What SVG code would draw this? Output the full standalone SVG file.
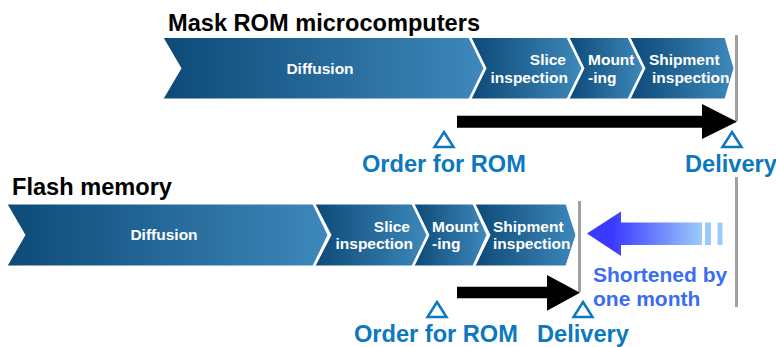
<svg xmlns="http://www.w3.org/2000/svg" width="776" height="347" viewBox="0 0 776 347">
<defs>
<linearGradient id="chev" x1="0" y1="0" x2="1" y2="0">
<stop offset="0" stop-color="#0d4a78"/>
<stop offset="1" stop-color="#3e88bb"/>
</linearGradient>
<linearGradient id="blueArrow" gradientUnits="userSpaceOnUse" x1="612" y1="0" x2="702" y2="0">
<stop offset="0" stop-color="#3a3aff"/>
<stop offset="1" stop-color="#9ccbfb"/>
</linearGradient>
<style>
.chev{fill:url(#chev);stroke:#fff;stroke-width:1}
.ct{font-family:"Liberation Sans",Arial,sans-serif;font-weight:bold;font-size:15.5px;fill:#fff}
.title{font-family:"Liberation Sans",Arial,sans-serif;font-weight:bold;font-size:23.6px;fill:#000}
.lbl{font-family:"Liberation Sans",Arial,sans-serif;font-weight:bold;font-size:23.6px;fill:#0b78c0}
.short{font-family:"Liberation Sans",Arial,sans-serif;font-weight:bold;font-size:21px;fill:#3a6cf4}
.tri{fill:#fff;stroke:#0b78c0;stroke-width:2.5;stroke-linejoin:miter}
.grey{stroke:#a0a0a0;stroke-width:3;fill:none}
.blk{fill:#000}
</style>
</defs>
<rect width="776" height="347" fill="#fff"/>

<g id="title-mask"><text class="title" x="168" y="31">Mask ROM microcomputers</text></g>
<g id="title-flash"><text class="title" x="12" y="195">Flash memory</text></g>

<!-- top row -->
<g id="top-diffusion">
<polygon class="chev" points="163,37.5 469,37.5 484,68.3 469,99 163,99 181,68.3"/>
<text class="ct" x="320" y="74" text-anchor="middle">Diffusion</text>
</g>
<g id="top-slice">
<polygon class="chev" points="471,37.5 567,37.5 582,68.3 567,99 471,99 486,68.3"/>
<text class="ct" x="566" y="65" text-anchor="end">Slice</text>
<text class="ct" x="568" y="83" text-anchor="end">inspection</text>
</g>
<g id="top-mount">
<polygon class="chev" points="569,37.5 628,37.5 643,68.3 628,99 569,99 584,68.3"/>
<text class="ct" x="588" y="65">Mount</text>
<text class="ct" x="588" y="83">-ing</text>
</g>
<g id="top-shipment">
<polygon class="chev" points="630,37.5 725,37.5 734,68.3 725,99 630,99 645,68.3"/>
<text class="ct" x="649" y="65">Shipment</text>
<text class="ct" x="652" y="83">inspection</text>
</g>

<!-- bottom row -->
<g id="bot-diffusion">
<polygon class="chev" points="7,204 313,204 328,235 313,266 7,266 25,235"/>
<text class="ct" x="164" y="240" text-anchor="middle">Diffusion</text>
</g>
<g id="bot-slice">
<polygon class="chev" points="315,204 412,204 427,235 412,266 315,266 331,235"/>
<text class="ct" x="410" y="232" text-anchor="end">Slice</text>
<text class="ct" x="413" y="249" text-anchor="end">inspection</text>
</g>
<g id="bot-mount">
<polygon class="chev" points="414,204 473,204 487,235 473,266 414,266 429,235"/>
<text class="ct" x="432" y="232">Mount</text>
<text class="ct" x="432" y="249">-ing</text>
</g>
<g id="bot-shipment">
<polygon class="chev" points="475,204 566,204 576,235 566,266 475,266 490,235"/>
<text class="ct" x="493" y="232">Shipment</text>
<text class="ct" x="493" y="249">inspection</text>
</g>

<!-- markers / labels -->
<g id="top-order">
<polygon class="tri" points="444,132 453.5,147 434.5,147"/>
<text class="lbl" x="362" y="172">Order for ROM</text>
</g>
<g id="top-delivery">
<polygon class="tri" points="732,132 741.5,147 722.5,147"/>
<text class="lbl" x="685" y="172">Delivery</text>
</g>
<g id="bot-order">
<polygon class="tri" points="437,302 446.5,317 427.5,317"/>
<text class="lbl" x="354" y="342">Order for ROM</text>
</g>
<g id="bot-delivery">
<polygon class="tri" points="583,302 592.5,317 573.5,317"/>
<text class="lbl" x="537" y="342">Delivery</text>
</g>
<g id="shortened">
<text class="short" x="593" y="282">Shortened by</text>
<text class="short" x="593" y="306">one month</text>
</g>

<g id="connectors">
<line class="grey" x1="736.5" y1="35" x2="736.5" y2="121"/>
<line class="grey" x1="736.5" y1="177" x2="736.5" y2="307"/>
<line class="grey" x1="579.5" y1="201" x2="579.5" y2="292"/>
<polygon class="blk" points="457,115.7 702,115.7 702,104 737,121.7 702,139 702,127.7 457,127.7"/>
<polygon class="blk" points="457,286.7 547,286.7 547,275 580,292.7 547,310.7 547,298.3 457,298.3"/>
<polygon fill="url(#blueArrow)" points="587,233.5 621,211.5 621,222.5 702,222.5 702,245 621,245 621,256"/>
<rect x="705" y="222.5" width="6" height="22.5" fill="#9ccbfb"/>
<rect x="717.5" y="222.5" width="5" height="22.5" fill="#9ccbfb"/>
</g>
</svg>
